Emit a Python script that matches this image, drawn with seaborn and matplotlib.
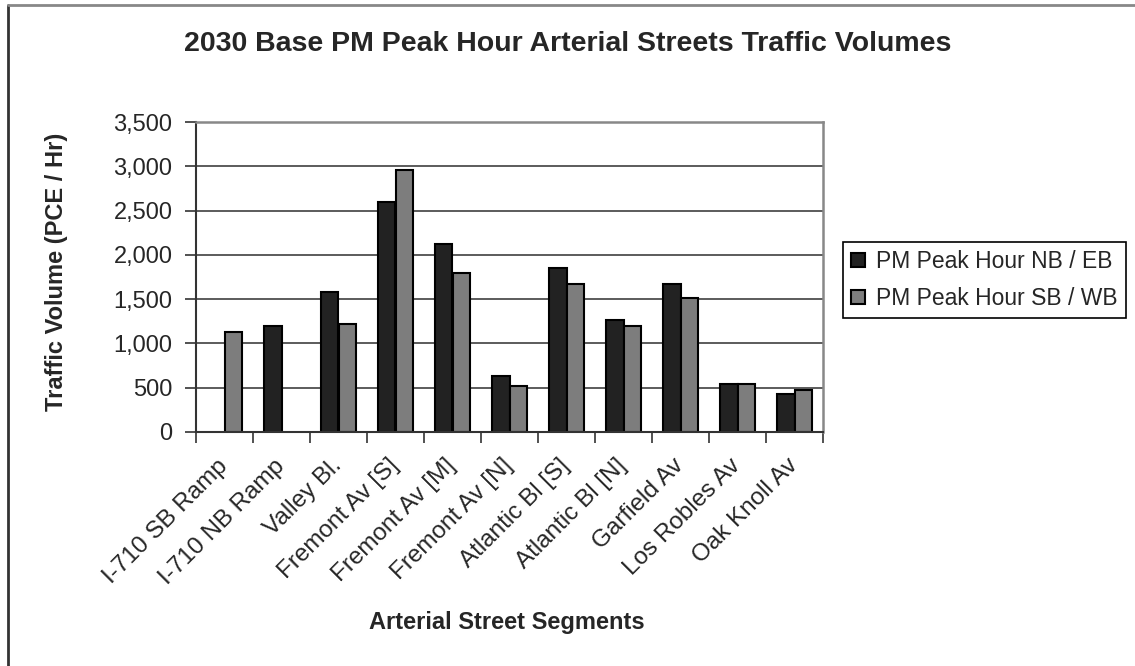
import matplotlib
matplotlib.use("Agg")
import matplotlib.pyplot as plt
from matplotlib.lines import Line2D
from matplotlib.ticker import FuncFormatter, FixedLocator
from matplotlib.transforms import ScaledTranslation
import numpy as np
import pandas as pd
import seaborn as sns

segments = ["I-710 SB Ramp", "I-710 NB Ramp", "Valley Bl.", "Fremont Av [S]",
            "Fremont Av [M]", "Fremont Av [N]", "Atlantic Bl [S]", "Atlantic Bl [N]",
            "Garfield Av", "Los Robles Av", "Oak Knoll Av"]
nb_eb = [np.nan, 1200, 1580, 2600, 2120, 630, 1855, 1270, 1675, 540, 430]
sb_wb = [1130, np.nan, 1220, 2960, 1790, 525, 1675, 1200, 1515, 540, 478]
series_names = ["PM Peak Hour NB / EB", "PM Peak Hour SB / WB"]
yticks = [0, 500, 1000, 1500, 2000, 2500, 3000, 3500]

title = "2030 Base PM Peak Hour Arterial Streets Traffic Volumes"
xlabel = "Arterial Street Segments"
ylabel = "Traffic Volume (PCE / Hr)"

df = pd.DataFrame({
    "segment": segments * 2,
    "volume": nb_eb + sb_wb,
    "direction": [series_names[0]] * len(segments) + [series_names[1]] * len(segments),
})

sns.set_theme(style="white")
plt.rcParams["font.family"] = ["Liberation Sans", "DejaVu Sans"]

W, H = 1135, 666
fig = plt.figure(figsize=(W / 100, H / 100), dpi=100)
ax = fig.add_axes([196 / W, 1 - 432 / H, (823 - 196) / W, (432 - 122) / H])

sns.barplot(data=df, x="segment", y="volume", hue="direction",
            palette=["#222222", "#7d7d7d"], width=0.6, saturation=1,
            edgecolor="black", linewidth=1.5, ax=ax, errorbar=None)

ax.set_ylim(0, 3500)
ax.set_xlim(-0.5, len(segments) - 0.5)
ax.yaxis.set_major_locator(FixedLocator(yticks))
ax.yaxis.set_major_formatter(FuncFormatter(lambda v, p: f"{v:,.0f}"))
ax.set_axisbelow(True)
ax.yaxis.grid(True, color="#404040", linewidth=1.2)
ax.xaxis.grid(False)

ax.set_xticks(range(len(segments)))
ax.set_xticklabels(segments, rotation=45, ha="right", va="center",
                   rotation_mode="anchor", fontsize=17.5)
shift = ScaledTranslation(-6 / 100, 0, fig.dpi_scale_trans)
for lab in ax.get_xticklabels():
    lab.set_transform(lab.get_transform() + shift)
ax.set_xticks(np.arange(-0.5, len(segments), 1.0), minor=True)
ax.tick_params(axis="x", which="major", length=0, pad=22)
ax.tick_params(axis="x", which="minor", length=8, width=1.2, color="#333333",
               direction="out", bottom=True)
ax.tick_params(axis="y", which="major", length=8, width=1.2, color="#333333",
               direction="out", left=True, labelsize=17, pad=9)

for side in ["top", "right"]:
    ax.spines[side].set_color("#888888")
    ax.spines[side].set_linewidth(1.8)
for side in ["left", "bottom"]:
    ax.spines[side].set_color("#333333")
    ax.spines[side].set_linewidth(1.5)

ax.set_xlabel("")
ax.set_ylabel("")

handles, labels = ax.get_legend_handles_labels()
ax.get_legend().remove()
leg = fig.legend(handles, labels, loc="center left",
                 bbox_to_anchor=(843 / W, 1 - 280 / H), fontsize=16.5,
                 frameon=True, fancybox=False, framealpha=1,
                 edgecolor="black", handlelength=0.6, handleheight=0.6,
                 handletextpad=0.5, borderpad=0.35, labelspacing=0.6,
                 borderaxespad=0)
leg.get_frame().set_linewidth(1.2)

fig.text(0.5, 1 - 44 / H, title, ha="center", va="center",
         fontsize=20.5, fontweight="bold")
fig.text(507 / W, 1 - 623 / H, xlabel, ha="center", va="center",
         fontsize=17, fontweight="bold")
fig.text(57 / W, 1 - 272 / H, ylabel, ha="center", va="center",
         rotation=90, fontsize=17, fontweight="bold")

fig.add_artist(Line2D([8 / W, 8 / W], [0, 1 - 5 / H], transform=fig.transFigure,
                      color="#333333", linewidth=2))
fig.add_artist(Line2D([8 / W, 1], [1 - 5 / H, 1 - 5 / H], transform=fig.transFigure,
                      color="#888888", linewidth=2))

fig.savefig("out.png", dpi=100, facecolor="white")
